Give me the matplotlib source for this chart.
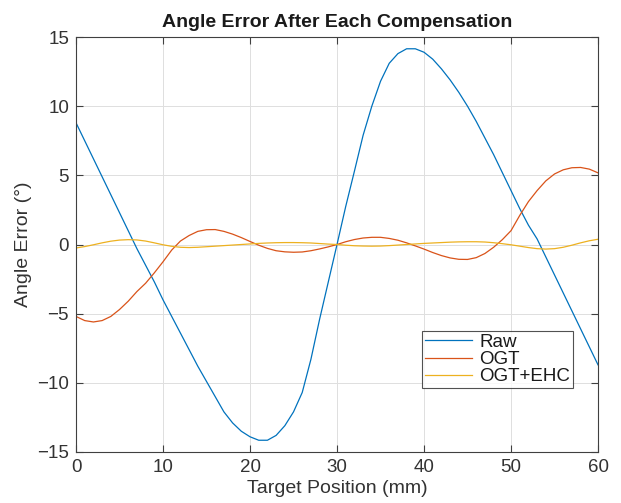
import numpy as np
import matplotlib
matplotlib.use("Agg")
import matplotlib.pyplot as plt

# target position (mm), 1 mm step
position = list(range(0, 61))

# angle error (deg)
raw = [8.8, 7.5, 6.2, 4.9, 3.6, 2.3, 1.0, -0.3, -1.5, -2.7,
       -4.0, -5.2, -6.4, -7.6, -8.8, -9.9, -11.0, -12.1, -12.9, -13.5,
       -13.9, -14.15, -14.15, -13.8, -13.1, -12.1, -10.7, -8.3, -5.4, -2.7,
       0.0, 2.75, 5.3, 7.9, 10.0, 11.8, 13.1, 13.8, 14.15, 14.15,
       13.9, 13.4, 12.7, 11.9, 11.0, 10.0, 8.9, 7.7, 6.5, 5.2,
       3.9, 2.6, 1.4, 0.4, -0.9, -2.2, -3.5, -4.8, -6.1, -7.4,
       -8.7]

ogt = [-5.2, -5.5, -5.6, -5.5, -5.2, -4.7, -4.1, -3.4, -2.8, -2.05,
       -1.25, -0.4, 0.25, 0.65, 0.95, 1.07, 1.08, 0.95, 0.75, 0.5,
       0.22, -0.05, -0.28, -0.45, -0.53, -0.56, -0.54, -0.45, -0.32, -0.17,
       0.0, 0.2, 0.36, 0.47, 0.52, 0.52, 0.44, 0.31, 0.12, -0.1,
       -0.33, -0.58, -0.8, -0.97, -1.07, -1.08, -0.95, -0.65, -0.2, 0.35,
       1.0, 2.1, 3.1, 3.9, 4.6, 5.1, 5.4, 5.55, 5.57, 5.45,
       5.18]

ogt_ehc = [-0.25, -0.15, -0.02, 0.12, 0.24, 0.32, 0.35, 0.33, 0.25, 0.12,
           -0.02, -0.13, -0.2, -0.22, -0.2, -0.16, -0.12, -0.08, -0.04, 0.0,
           0.04, 0.08, 0.11, 0.13, 0.14, 0.14, 0.13, 0.11, 0.07, 0.03,
           0.0, -0.05, -0.09, -0.11, -0.12, -0.11, -0.08, -0.04, 0.0, 0.04,
           0.08, 0.11, 0.14, 0.17, 0.19, 0.2, 0.2, 0.18, 0.13, 0.06,
           -0.02, -0.12, -0.22, -0.3, -0.33, -0.3, -0.2, -0.05, 0.12, 0.27,
           0.38]

plt.rcParams['font.family'] = ['Liberation Sans', 'DejaVu Sans']

fig = plt.figure(figsize=(6.21, 5.03), dpi=100)
ax = fig.add_axes([0.1224, 0.1014, 0.8406, 0.825])

ax.plot(position, raw, color='#0072BD', lw=0.9, label='Raw')
ax.plot(position, ogt, color='#D95319', lw=0.9, label='OGT')
ax.plot(position, ogt_ehc, color='#EDB120', lw=0.9, label='OGT+EHC')

ax.set_xlim(0, 60)
ax.set_ylim(-15, 15)
ax.set_xticks(np.arange(0, 61, 10))
ax.set_yticks(np.arange(-15, 16, 5))
ax.set_yticklabels(['\u221215', '\u221210', '\u22125', '0', '5', '10', '15'])

ax.grid(True, color='#dfdfdf', lw=0.7)
ax.set_axisbelow(True)
for s in ax.spines.values():
    s.set_color('#404040')
    s.set_linewidth(0.8)
ax.tick_params(direction='in', top=True, right=True, length=5,
               width=0.8, color='#404040', labelsize=13.5,
               labelcolor='#333333', pad=5)

ax.set_title('Angle Error After Each Compensation', fontsize=14,
             fontweight='bold', color='#1a1a1a', pad=7)
ax.set_xlabel('Target Position (mm)', fontsize=14, color='#333333', labelpad=3)
ax.set_ylabel('Angle Error (\u00b0)', fontsize=14, color='#333333', labelpad=4)

leg = ax.legend(loc='lower right', bbox_to_anchor=(0.952, 0.154),
                fontsize=13.5, frameon=True, fancybox=False,
                borderpad=0.15, labelspacing=0.0, handlelength=2.5,
                handletextpad=0.4, borderaxespad=0.0)
leg.get_frame().set_edgecolor('#262626')
leg.get_frame().set_linewidth(0.8)
for t in leg.get_texts():
    t.set_color('#1a1a1a')

fig.savefig('out.png', dpi=100)
